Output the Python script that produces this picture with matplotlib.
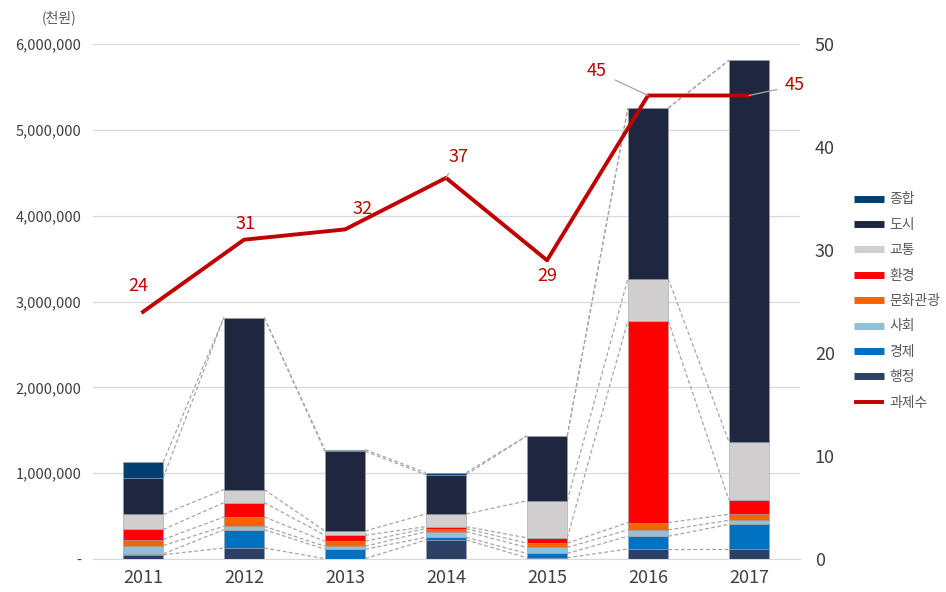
import numpy as np
import matplotlib.pyplot as plt
from matplotlib.lines import Line2D
from matplotlib.ticker import FuncFormatter

plt.rcParams['font.family'] = ['Noto Sans CJK KR', 'DejaVu Sans']

years = ['2011', '2012', '2013', '2014', '2015', '2016', '2017']

# stacked segments (thousand won), bottom to top
haengjeong = [50000, 128000, 5000, 222000, 15000, 117000, 117000]
gyeongje = [10000, 214000, 109000, 31000, 50000, 148000, 287000]
sahoe = [97000, 39000, 35000, 66000, 70000, 74000, 47000]
munhwa = [70000, 109000, 58000, 35000, 50000, 85000, 70000]
hwangyeong = [117000, 167000, 70000, 23000, 62000, 2350000, 168000]
gyotong = [175000, 152000, 50000, 148000, 431000, 490000, 679000]
dosi = [427000, 2004000, 928000, 458000, 757000, 1990000, 4440000]
jonghap = [183000, 0, 20000, 23000, 0, 0, 0]

task_count = [24, 31, 32, 37, 29, 45, 45]

series = [
    ('행정', haengjeong, '#2E3F66'),
    ('경제', gyeongje, '#0070C0'),
    ('사회', sahoe, '#92C0D8'),
    ('문화관광', munhwa, '#F26500'),
    ('환경', hwangyeong, '#FF0000'),
    ('교통', gyotong, '#D0CECE'),
    ('도시', dosi, '#1F2740'),
    ('종합', jonghap, '#004070'),
]

fig = plt.figure(figsize=(9.46, 5.92), dpi=100)
ax = fig.add_axes([0.0978, 0.0557, 0.7474, 0.87])
ax2 = ax.twinx()

x = np.arange(len(years))
w = 0.4
bottom = np.zeros(len(years))
for name, vals, col in series:
    vals = np.array(vals, dtype=float)
    ax.bar(x, vals, w, bottom=bottom, color=col, edgecolor='#9aa0aa', linewidth=0.4, zorder=3)
    top = bottom + vals
    # series lines between neighbouring bars
    for i in range(len(years) - 1):
        ax.plot([x[i] + w / 2, x[i + 1] - w / 2], [top[i], top[i + 1]],
                color='#A6A6A6', lw=0.9, ls=(0, (3, 2)), zorder=2)
    bottom = top

ax.set_xlim(-0.5, 6.5)
ax.set_ylim(0, 6000000)
ax.set_yticks(np.arange(0, 6000001, 1000000))
ax.yaxis.set_major_formatter(FuncFormatter(lambda v, p: '-' if v == 0 else f'{int(v):,}'))
ax.grid(axis='y', color='#D9D9D9', lw=0.9, zorder=0)
ax.set_axisbelow(True)
ax.set_xticks(x)
ax.set_xticklabels(years, fontsize=13, color='#404040')
ax.tick_params(axis='y', length=0, labelsize=10.5, colors='#404040', pad=8)
ax.tick_params(axis='x', length=0, pad=7)
for s in ['top', 'left', 'right']:
    ax.spines[s].set_visible(False)
ax.spines['bottom'].set_color('#D9D9D9')

ax2.plot(x, task_count, color='#C00000', lw=2.8, zorder=5)
ax2.set_ylim(0, 50)
ax2.set_yticks(np.arange(0, 51, 10))
ax2.tick_params(axis='y', length=0, labelsize=13, colors='#404040', pad=11)
for s in ['top', 'left', 'right', 'bottom']:
    ax2.spines[s].set_visible(False)

offsets = [(-5, 26), (1, 16), (17, 20), (12, 21), (0, -16), (-51, 24), (46, 10)]
leader = [False, False, False, True, False, True, True]
for i, v in enumerate(task_count):
    kw = {}
    if leader[i]:
        kw['arrowprops'] = dict(arrowstyle='-', color='#A6A6A6', lw=0.9, shrinkA=4, shrinkB=0)
    ax2.annotate(str(v), (x[i], v), xytext=offsets[i], textcoords='offset pixels',
                 ha='center', va='center', fontsize=13, color='#C00000', zorder=6, **kw)

fig.text(0.063, 0.97, '(천원)', fontsize=10, color='#595959', ha='center', va='center')

handles = [Line2D([0], [0], color=col, lw=5, solid_capstyle='butt') for name, vals, col in series[::-1]]
labels = [name for name, vals, col in series[::-1]]
handles.append(Line2D([0], [0], color='#C00000', lw=2.8, solid_capstyle='butt'))
labels.append('과제수')
fig.legend(handles, labels, loc='upper left', bbox_to_anchor=(0.898, 0.682), frameon=False,
           fontsize=10, handlelength=2.2, handletextpad=0.35, labelspacing=0.82,
           labelcolor='#595959', borderaxespad=0, borderpad=0.3)

fig.savefig('out.png', dpi=100)
